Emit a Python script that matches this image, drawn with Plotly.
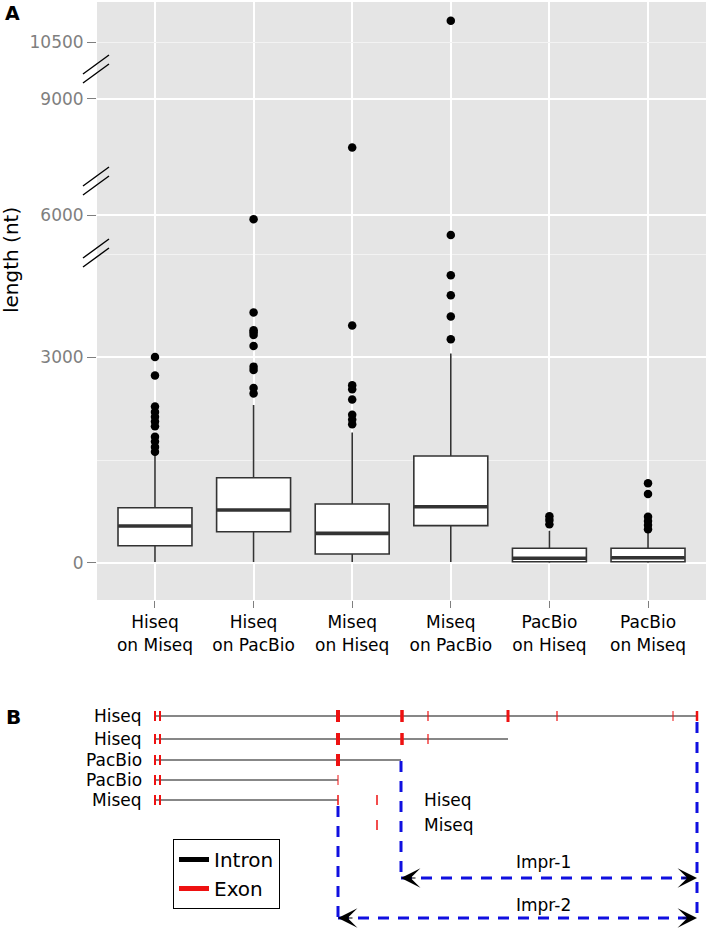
import plotly.graph_objects as go

W, H = 711, 928

# ---------------- Panel A data ----------------
categories = ["Hiseq on Miseq", "Hiseq on PacBio", "Miseq on Hiseq",
              "Miseq on PacBio", "PacBio on Hiseq", "PacBio on Miseq"]
tick_labels = ["Hiseq<br>on Miseq", "Hiseq<br>on PacBio", "Miseq<br>on Hiseq",
               "Miseq<br>on PacBio", "PacBio<br>on Hiseq", "PacBio<br>on Miseq"]
q1 = [252, 456, 131, 544, 19, 19]
medians = [539, 772, 432, 820, 68, 77]
q3 = [805, 1242, 859, 1558, 214, 214]
lower_whisker = [15, 15, 15, 15, 5, 5]
upper_whisker = [1600, 2300, 1900, 3050, 470, 456]

outliers_hiseq_on_miseq = [3000, 2730, 2280, 2200, 2130, 2060, 1990, 1840, 1770, 1690, 1620]
outliers_hiseq_on_pacbio = [5890, 3650, 3390, 3360, 3320, 3160, 2860, 2810, 2550, 2470]
outliers_miseq_on_hiseq = [7740, 3460, 2590, 2530, 2380, 2160, 2090, 2020]
outliers_miseq_on_pacbio = [11050, 5480, 4190, 3900, 3590, 3260]
outliers_pacbio_on_hiseq = [680, 625, 565]
outliers_pacbio_on_miseq = [1160, 1005, 675, 612, 553, 491]

y_tick_values = [0, 3000, 6000, 9000, 10500]
y_minor_values = [1500, 4500]

# ---------------- Panel B data ----------------
track_names = ["Hiseq", "Hiseq", "PacBio", "PacBio", "Miseq"]
track_y = [716, 739, 760, 780, 800]
intron_start = [155, 155, 155, 155, 155]
intron_end = [697, 508, 401, 338, 338]
exons_hiseq_1 = [155, 160, 338, 402, 428, 508, 557, 673, 697]
exons_hiseq_2 = [155, 160, 338, 402, 428]
exons_pacbio_1 = [155, 160, 338]
exons_pacbio_2 = [155, 160, 338]
exons_miseq = [155, 160, 338]
exon_width_hiseq_1 = [2, 2, 4, 3.5, 1.2, 3, 1.2, 1, 2.5]
exon_width_hiseq_2 = [2, 2, 4, 3.5, 1.2]
exon_width_pacbio_1 = [2, 2, 4]
exon_width_pacbio_2 = [2, 2, 1]
exon_width_miseq = [2, 2, 1.5]

side_labels = ["Hiseq", "Miseq"]
side_exon_x = [377, 377]
side_y = [800, 825]

impr_labels = ["Impr-1", "Impr-2"]
impr_start = [401, 338]
impr_end = [697, 697]
impr_y = [878, 918]
impr_label_x = [543, 543]
impr_label_y = [862, 905]
drop_x = [401, 697, 338]
drop_top = [761, 722, 806]
drop_bottom = [878, 918, 918]

# ---------------- layout helpers ----------------
FONT = "DejaVu Sans"
GREY_TXT = "#7f7f7f"
BOX_LINE = "#333333"
RED = "#ee1111"
BLUE = "#1010e0"


def py(p):
    return 1 - p / H


X_DOM = [97 / W, 706 / W]
X_RANGE = [-0.588, 5.588]
# broken axis: segments (pixel bottom, pixel top) and value ranges
seg_px = [(600, 253), (253, 181), (181, 69), (69, 2)]
seg_range = [(-539, 4515), (5012, 6884), (6867, 9780), (9798, 11540)]

outliers = [outliers_hiseq_on_miseq, outliers_hiseq_on_pacbio, outliers_miseq_on_hiseq,
            outliers_miseq_on_pacbio, outliers_pacbio_on_hiseq, outliers_pacbio_on_miseq]

fig = go.Figure()

# boxes in lowest segment
fig.add_trace(go.Box(
    x=categories, q1=q1, median=medians, q3=q3,
    lowerfence=lower_whisker, upperfence=upper_whisker,
    fillcolor="white", line=dict(color=BOX_LINE, width=1.6),
    whiskerwidth=0, boxpoints=False, showlegend=False,
    xaxis="x", yaxis="y", hoverinfo="skip"))
# thicker median bar (line-ew marker length is 1.4 x size)
fig.add_trace(go.Scatter(
    x=categories, y=medians, mode="markers",
    marker=dict(symbol="line-ew", size=52.5, line=dict(color=BOX_LINE, width=3.6)),
    showlegend=False, xaxis="x", yaxis="y", hoverinfo="skip"))

layout_axes = {}
for i, ((pb, pt), (lo, hi)) in enumerate(zip(seg_px, seg_range)):
    sx = "x" if i == 0 else f"x{i + 1}"
    sy = "y" if i == 0 else f"y{i + 1}"
    xs, ys = [], []
    for c, vals in zip(categories, outliers):
        for v in vals:
            if lo <= v <= hi:
                xs.append(c)
                ys.append(v)
    fig.add_trace(go.Scatter(
        x=xs, y=ys, mode="markers",
        marker=dict(color="black", size=8.5),
        showlegend=False, xaxis=sx, yaxis=sy, hoverinfo="skip"))

    ticks = [t for t in y_tick_values if lo <= t <= hi]
    minor = [t for t in y_minor_values if lo <= t <= hi]
    faint = (i == 3)
    yax = dict(
        domain=[py(pb), py(pt)], range=[lo, hi], anchor=sx,
        tickmode="array", tickvals=ticks, ticktext=[str(t) for t in ticks],
        ticks="outside", ticklen=9, tickwidth=1, tickcolor=GREY_TXT,
        tickfont=dict(family=FONT, size=17, color=GREY_TXT),
        showgrid=True, gridcolor="#f3f3f3" if faint else "white",
        gridwidth=1 if faint else 2,
        zeroline=False, showline=False,
    )
    if minor:
        yax["minor"] = dict(tickvals=minor, showgrid=True, gridcolor="#f3f3f3",
                            gridwidth=1, ticks="")
    xax = dict(
        domain=X_DOM, anchor=sy, type="category", categoryorder="array",
        categoryarray=categories, range=X_RANGE,
        tickmode="array", tickvals=categories,
        ticktext=tick_labels if i == 0 else [""] * len(categories),
        showticklabels=(i == 0), ticks="outside" if i == 0 else "",
        ticklen=7, tickwidth=1, tickcolor=GREY_TXT,
        tickfont=dict(family=FONT, size=17, color="black"),
        showgrid=True, gridcolor="white", gridwidth=2,
        zeroline=False, showline=False,
    )
    layout_axes["yaxis" if i == 0 else f"yaxis{i + 1}"] = yax
    layout_axes["xaxis" if i == 0 else f"xaxis{i + 1}"] = xax

# ---------------- Panel B ----------------
BX, BY = "x5", "y5"
for y, s, e in zip(track_y, intron_start, intron_end):
    fig.add_trace(go.Scatter(x=[s, e], y=[y, y], mode="lines",
                             line=dict(color="#111111", width=1.1),
                             showlegend=False, xaxis=BX, yaxis=BY, hoverinfo="skip"))

exon_tracks = [(exons_hiseq_1, exon_width_hiseq_1), (exons_hiseq_2, exon_width_hiseq_2),
               (exons_pacbio_1, exon_width_pacbio_1), (exons_pacbio_2, exon_width_pacbio_2),
               (exons_miseq, exon_width_miseq)]
for y, (pos, wid) in zip(track_y, exon_tracks):
    for p, w in zip(pos, wid):
        h = 6 if w >= 3 else 5
        fig.add_trace(go.Scatter(x=[p, p], y=[y - h, y + h], mode="lines",
                                 line=dict(color=RED, width=w),
                                 showlegend=False, xaxis=BX, yaxis=BY, hoverinfo="skip"))
for p, y in zip(side_exon_x, side_y):
    fig.add_trace(go.Scatter(x=[p, p], y=[y - 5, y + 5], mode="lines",
                             line=dict(color=RED, width=1.5),
                             showlegend=False, xaxis=BX, yaxis=BY, hoverinfo="skip"))

# blue dashed improvement lines
for x, t, b in zip(drop_x, drop_top, drop_bottom):
    fig.add_trace(go.Scatter(x=[x, x], y=[t, b], mode="lines",
                             line=dict(color=BLUE, width=3, dash="11px,9px"),
                             showlegend=False, xaxis=BX, yaxis=BY, hoverinfo="skip"))
for s, e, y in zip(impr_start, impr_end, impr_y):
    fig.add_trace(go.Scatter(x=[s, e], y=[y, y], mode="lines",
                             line=dict(color=BLUE, width=3, dash="11px,9px"),
                             showlegend=False, xaxis=BX, yaxis=BY, hoverinfo="skip"))

# legend keys
fig.add_trace(go.Scatter(x=[None], y=[None], mode="lines", name="Intron",
                         line=dict(color="black", width=5), xaxis=BX, yaxis=BY))
fig.add_trace(go.Scatter(x=[None], y=[None], mode="lines", name="Exon",
                         line=dict(color=RED, width=5), xaxis=BX, yaxis=BY))

annotations = []
for name, y in zip(track_names, track_y):
    annotations.append(dict(x=144, y=y, xref=BX, yref=BY, text=name, showarrow=False,
                            xanchor="right", yanchor="middle",
                            font=dict(family=FONT, size=17, color="black")))
for name, y in zip(side_labels, side_y):
    annotations.append(dict(x=422, y=y, xref=BX, yref=BY, text=name, showarrow=False,
                            xanchor="left", yanchor="middle",
                            font=dict(family=FONT, size=17, color="black")))
for name, s, e, y, lx, ly in zip(impr_labels, impr_start, impr_end, impr_y,
                                 impr_label_x, impr_label_y):
    annotations.append(dict(x=lx, y=ly, xref=BX, yref=BY, text=name,
                            showarrow=False, xanchor="center", yanchor="middle",
                            font=dict(family=FONT, size=17, color="black")))
    for tip, tail in ((s, s + 16), (e, e - 16)):
        annotations.append(dict(x=tip, y=y, ax=tail, ay=y, xref=BX, yref=BY,
                                axref=BX, ayref=BY, text="", showarrow=True,
                                arrowhead=3, arrowsize=2.7, arrowwidth=1.2,
                                arrowcolor="black", standoff=0))

annotations += [
    dict(x=3 / W, y=py(13), xref="paper", yref="paper", text="<b>A</b>", showarrow=False,
         xanchor="left", yanchor="middle", font=dict(family=FONT, size=19, color="black")),
    dict(x=4 / W, y=py(717), xref="paper", yref="paper", text="<b>B</b>", showarrow=False,
         xanchor="left", yanchor="middle", font=dict(family=FONT, size=20, color="black")),
    dict(x=11 / W, y=py(260), xref="paper", yref="paper", text="length (nt)",
         showarrow=False, textangle=-90, xanchor="center", yanchor="middle",
         font=dict(family=FONT, size=20, color="black")),
]

shapes = [dict(type="rect", xref="paper", yref="paper", x0=X_DOM[0], x1=X_DOM[1],
               y0=py(600), y1=py(2), fillcolor="#e5e5e5", line=dict(width=0), layer="below")]
for b in [253, 181, 69]:
    for off in (-4.5, 4.5):
        shapes.append(dict(type="line", xref="paper", yref="paper",
                           x0=83 / W, x1=109 / W, y0=py(b + off + 9.5), y1=py(b + off - 9.5),
                           line=dict(color="black", width=1.4), layer="above"))

fig.update_layout(
    width=W, height=H, autosize=False,
    margin=dict(l=0, r=0, t=0, b=0),
    paper_bgcolor="white", plot_bgcolor="rgba(0,0,0,0)",
    font=dict(family=FONT),
    boxgap=0.25, boxgroupgap=0,
    xaxis5=dict(domain=[0, 1], range=[0, W], anchor=BY, visible=False),
    yaxis5=dict(domain=[0, py(680)], range=[H, 680], anchor=BX, visible=False),
    showlegend=True,
    legend=dict(x=173 / W, y=py(839), xanchor="left", yanchor="top",
                bordercolor="black", borderwidth=1, bgcolor="white",
                font=dict(family=FONT, size=20, color="black"),
                itemwidth=30, tracegroupgap=0),
    annotations=annotations,
    shapes=shapes,
    **layout_axes,
)

fig.write_html("out.html", config={"displayModeBar": False},
               post_script="document.body.style.margin='0px';")
